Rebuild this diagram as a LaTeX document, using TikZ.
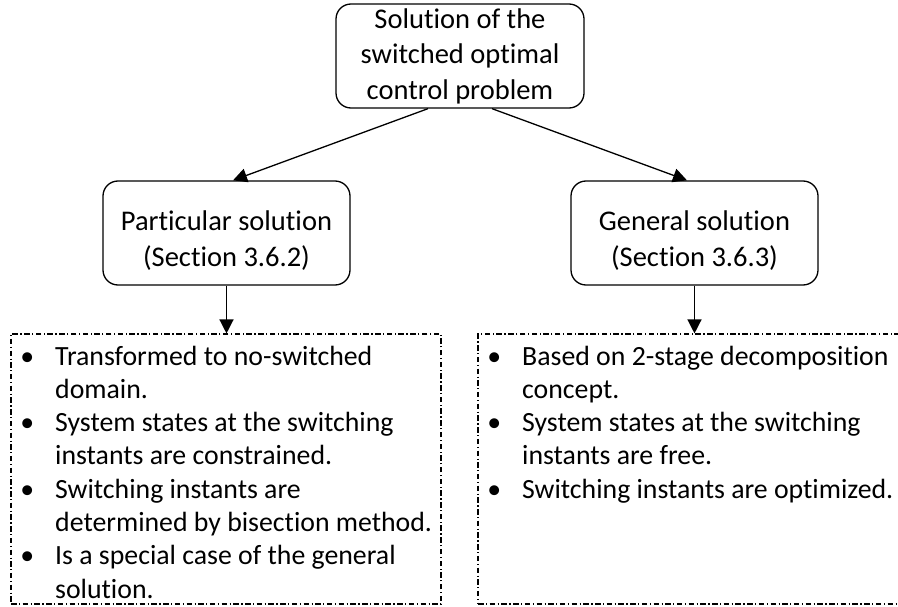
\documentclass[tikz,border=0pt]{standalone}
\usepackage{fontspec}
\setmainfont{Carlito}[Ligatures={NoCommon}]
\usetikzlibrary{arrows.meta,calc}
\newcommand{\mybul}{\makebox[42pt][l]{\makebox[28pt]{•}}}
\begin{document}
\begin{tikzpicture}[x=1pt,y=-1pt,
  roundbox/.style={draw,line width=1.3pt,rounded corners=15pt,minimum width=247pt,minimum height=104pt,align=center,inner sep=0pt,font=\fontsize{28.5}{35.5}\selectfont},
  dashbox/.style={draw,line width=1.1pt,dash pattern=on 5.5pt off 2.5pt on 1.2pt off 2.5pt,minimum height=270pt,inner sep=0pt},
  arr/.style={line width=1.3pt,-{Triangle[length=14pt,width=14pt]}},
  itemlist/.style={anchor=base west,inner sep=0pt,font=\fontsize{27.8}{33.3}\selectfont}]
\useasboundingbox (0,0) rectangle (898,607);
\node[roundbox,minimum width=248pt] (top) at (460,56) {Solution of the\\switched optimal\\control problem};
\node[roundbox] (lmid) at (226.5,233) {\rule{0pt}{35pt}Particular solution\\(Section 3.6.2)};
\node[roundbox] (rmid) at (694.5,233) {\rule{0pt}{35pt}General solution\\(Section 3.6.3)};
\node[dashbox,minimum width=430pt] (lbox) at (226,469) {};
\node[dashbox,minimum width=421pt] (rbox) at (688.5,469) {};
\node[itemlist] (ltext) at (13,365) {\begin{tabular}[t]{@{}l@{}l@{}}
\mybul & Transformed to no-switched\\
 & domain.\\
\mybul & System states at the switching\\
 & instants are constrained.\\
\mybul & Switching instants are\\
 & determined by bisection method.\\
\mybul & Is a special case of the general\\
 & solution.
\end{tabular}};
\node[itemlist] (rtext) at (480,365) {\begin{tabular}[t]{@{}l@{}l@{}}
\mybul & Based on 2-stage decomposition\\
 & concept.\\
\mybul & System states at the switching\\
 & instants are free.\\
\mybul & Switching instants are optimized.
\end{tabular}};
\draw[arr] ($(top.south)+(-32,0)$) -- ($(lmid.north)+(6.5,0)$);
\draw[arr] ($(top.south)+(32,0)$) -- ($(rmid.north)+(-7.5,0)$);
\draw[arr] (lmid.south) -- (lmid.south |- lbox.north);
\draw[arr] (rmid.south) -- (rmid.south |- rbox.north);
\end{tikzpicture}
\end{document}
